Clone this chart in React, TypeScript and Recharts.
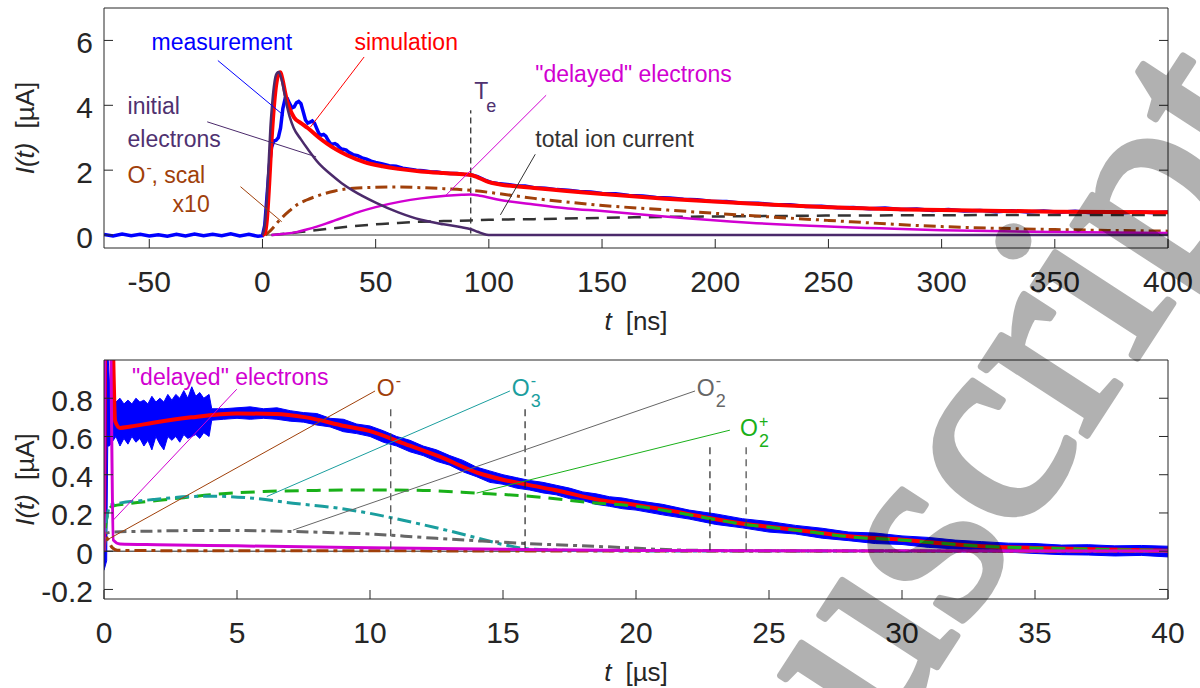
import React from "react";
import {
  ComposedChart,
  Line,
  Area,
  XAxis,
  YAxis,
  ReferenceLine,
  ReferenceDot,
} from "recharts";

type Pt = [number, number];
type Band = [number, number, number];

// ---------- top panel: t in ns, I in uA ----------
const nsTicks = [-50, 0, 50, 100, 150, 200, 250, 300, 350, 400];
const nsCurrentTicks = [0, 2, 4, 6];

const measurementNs: Pt[] = [
  [-70, 0.02], [-66, -0.03], [-62, 0.03], [-58, -0.02], [-54, 0.02], [-50, -0.03],
  [-46, 0.01], [-42, -0.04], [-38, 0.02], [-34, -0.03], [-30, 0.03], [-26, -0.02],
  [-22, 0.02], [-18, -0.02], [-14, 0.04], [-10, -0.03], [-6, 0.02], [-2, -0.04],
  [0, -0.02], [1, 0.3], [2, 1.2], [3, 2.1], [4, 2.7], [5, 2.9], [6, 2.92], [7, 3.0],
  [8, 3.3], [9, 3.9], [10, 4.2], [11, 4.2], [12, 4.05], [13, 3.92], [14, 3.95],
  [15, 4.08], [16, 4.12], [17, 4.05], [18, 3.8], [19, 3.55], [20, 3.45], [21, 3.48],
  [22, 3.52], [23, 3.45], [24, 3.28], [25, 3.12], [26, 3.08], [27, 3.1], [28, 3.05],
  [29, 2.92], [30, 2.82], [31, 2.8], [32, 2.82], [33, 2.78], [34, 2.7], [35, 2.65],
  [36, 2.64], [37, 2.62], [38, 2.56], [40, 2.48], [42, 2.45], [44, 2.38], [46, 2.34],
  [48, 2.28], [50, 2.24], [53, 2.19], [56, 2.14], [59, 2.12], [62, 2.06], [65, 2.03],
  [68, 2.0], [71, 1.98], [74, 1.95], [77, 1.94], [80, 1.91], [83, 1.9], [86, 1.9],
  [89, 1.87], [92, 1.86], [95, 1.8], [98, 1.7], [101, 1.62], [104, 1.59], [108, 1.56],
  [112, 1.52], [116, 1.51], [120, 1.46], [125, 1.44], [130, 1.4], [135, 1.38],
  [140, 1.34], [145, 1.33], [150, 1.28], [156, 1.27], [162, 1.22], [168, 1.2],
  [174, 1.16], [180, 1.14], [186, 1.1], [192, 1.09], [198, 1.04], [205, 1.03],
  [212, 0.98], [219, 0.98], [226, 0.93], [233, 0.93], [240, 0.88], [247, 0.89],
  [254, 0.84], [261, 0.85], [268, 0.81], [275, 0.83], [282, 0.79], [289, 0.8],
  [296, 0.76], [303, 0.79], [310, 0.74], [317, 0.76], [324, 0.72], [331, 0.75],
  [338, 0.71], [345, 0.74], [352, 0.7], [359, 0.73], [366, 0.69], [373, 0.72],
  [380, 0.69], [387, 0.72], [394, 0.69], [400, 0.71],
];

const simulationNs: Pt[] = [
  [0, 0], [1, 0.05], [2, 0.5], [3, 1.6], [4, 2.9], [5, 3.9], [6, 4.6], [7, 4.95],
  [7.8, 5.02], [9, 4.75], [10, 4.4], [11, 4.1], [12, 3.9], [14, 3.62], [17, 3.45],
  [20, 3.3], [25, 3.0], [28.5, 2.82], [33, 2.62], [37.4, 2.46], [45, 2.25], [53, 2.12],
  [60, 2.04], [70, 1.96], [80, 1.91], [87, 1.88], [92, 1.85], [95, 1.78], [100, 1.63],
  [105, 1.56], [120, 1.45], [149, 1.27], [178, 1.12], [215, 0.97], [250, 0.86],
  [300, 0.77], [350, 0.72], [400, 0.7],
];

const initialNs: Pt[] = [
  [0, 0], [1, 0.3], [2, 1.2], [2.8, 2.3], [3.5, 3.3], [4.3, 4.05], [5, 4.55],
  [5.7, 4.87], [6.5, 5.0], [7.2, 5.03], [8, 4.9], [8.7, 4.72], [10, 4.25], [10.9, 3.95],
  [12, 3.65], [13.8, 3.3], [17, 2.95], [20, 2.65], [25, 2.2], [30, 1.88], [35, 1.6],
  [40, 1.37], [50, 1.0], [60, 0.7], [70, 0.47], [80, 0.33], [88, 0.24], [92, 0.18],
  [95, 0.1], [99, 0.01], [101, 0], [400, 0],
];

const oMinusScaledNs: Pt[] = [
  [1.3, 0], [3, 0.1], [5, 0.25], [7, 0.42], [9, 0.56], [12, 0.75], [15, 0.92],
  [19.5, 1.08], [24, 1.2], [28, 1.29], [32, 1.36], [36, 1.41], [42, 1.45], [50, 1.47],
  [61, 1.48], [70, 1.46], [80, 1.43], [92, 1.38], [105, 1.27], [120, 1.13], [149, 0.92],
  [179, 0.77], [215, 0.6], [250, 0.45], [300, 0.26], [350, 0.17], [400, 0.12],
];

const delayedNs: Pt[] = [
  [4, 0], [10, 0.04], [15, 0.09], [19.5, 0.17], [24, 0.26], [28, 0.35], [32, 0.45],
  [36.4, 0.56], [43, 0.72], [50, 0.86], [61, 1.03], [70, 1.13], [81, 1.21], [88, 1.24],
  [92, 1.25], [96, 1.21], [105, 1.08], [120, 0.94], [135, 0.82], [150, 0.74],
  [179, 0.56], [215, 0.38], [250, 0.26], [300, 0.15], [350, 0.09], [400, 0.06],
];

const ionTotalNs: Pt[] = [
  [4, 0], [10, 0.04], [20, 0.12], [30, 0.2], [40, 0.27], [50, 0.33], [60, 0.37],
  [70, 0.41], [80, 0.43], [92, 0.45], [100, 0.47], [120, 0.49], [150, 0.53],
  [180, 0.56], [215, 0.58], [250, 0.6], [300, 0.61], [350, 0.62], [400, 0.62],
];

// ---------- bottom panel: t in us ----------
const usTicks = [0, 5, 10, 15, 20, 25, 30, 35, 40];
const usCurrentTicks = [-0.2, 0, 0.2, 0.4, 0.6, 0.8];

// measurement drawn as noise band [t, low, high]
const measurementUs: Band[] = [
  [0, -0.1, 1.05], [0.1, -0.05, 1.05], [0.14, 0.55, 1.05], [0.2, 0.55, 0.9],
  [0.3, 0.57, 0.84], [0.45, 0.6, 0.78], [0.6, 0.55, 0.8], [0.75, 0.59, 0.77],
  [0.9, 0.56, 0.79], [1.05, 0.6, 0.77], [1.2, 0.57, 0.8], [1.35, 0.59, 0.78],
  [1.5, 0.55, 0.79], [1.65, 0.58, 0.77], [1.8, 0.53, 0.81], [1.95, 0.6, 0.78],
  [2.1, 0.56, 0.8], [2.25, 0.53, 0.78], [2.4, 0.6, 0.82], [2.55, 0.58, 0.79],
  [2.7, 0.6, 0.82], [2.85, 0.57, 0.8], [3.0, 0.61, 0.84], [3.15, 0.59, 0.8],
  [3.3, 0.6, 0.86], [3.45, 0.61, 0.81], [3.6, 0.59, 0.83], [3.75, 0.62, 0.8],
  [3.95, 0.6, 0.82], [4.05, 0.685, 0.745], [4.5, 0.69, 0.745], [5, 0.695, 0.75],
  [5.5, 0.69, 0.755], [6, 0.695, 0.745], [6.5, 0.69, 0.75], [7, 0.68, 0.735],
  [7.5, 0.675, 0.725], [8, 0.66, 0.72], [8.5, 0.65, 0.695], [9, 0.625, 0.69],
  [9.5, 0.615, 0.665], [10, 0.6, 0.655], [10.5, 0.57, 0.63], [11, 0.55, 0.6],
  [11.5, 0.52, 0.58], [12, 0.5, 0.55], [12.5, 0.47, 0.53], [13, 0.45, 0.5],
  [13.5, 0.415, 0.475], [14, 0.39, 0.44], [14.5, 0.36, 0.42], [15, 0.35, 0.4],
  [15.5, 0.33, 0.385], [16, 0.32, 0.37], [16.5, 0.305, 0.36], [17, 0.295, 0.345],
  [17.5, 0.275, 0.33], [18, 0.265, 0.31], [18.5, 0.245, 0.3], [19, 0.235, 0.285],
  [19.5, 0.222, 0.278], [20, 0.215, 0.265], [21, 0.19, 0.245], [22, 0.168, 0.215],
  [23, 0.14, 0.195], [24, 0.122, 0.17], [25, 0.1, 0.155], [26, 0.09, 0.135],
  [27, 0.068, 0.12], [28, 0.055, 0.1], [29, 0.04, 0.095], [30, 0.035, 0.08],
  [31, 0.02, 0.072], [32, 0.012, 0.058], [33, 0.0, 0.05], [34, -0.005, 0.042],
  [35, -0.012, 0.04], [36, -0.018, 0.032], [37, -0.02, 0.034], [38, -0.025, 0.028],
  [39, -0.022, 0.03], [40, -0.03, 0.026],
];

const simulationUs: Pt[] = [
  [0, 0], [0.06, 1.3], [0.28, 1.3], [0.42, 0.68], [0.6, 0.645], [1.0, 0.652],
  [1.85, 0.672], [3.28, 0.7], [5.0, 0.72], [6.45, 0.718], [7.6, 0.7], [9.04, 0.655],
  [10.0, 0.628], [11.2, 0.567], [12.6, 0.496], [14.07, 0.409], [15.0, 0.374],
  [15.95, 0.347], [16.95, 0.32], [18.65, 0.267], [20, 0.242], [21.5, 0.207],
  [22.8, 0.172], [24.1, 0.142], [25, 0.128], [26.6, 0.102], [28, 0.078], [30, 0.06],
  [31.6, 0.04], [33, 0.026], [35, 0.017], [37.3, 0.01], [40, 0.003],
];

const o2PlusUs: Pt[] = [
  [0, 0], [0.1, 0.17], [0.3, 0.235], [1, 0.25], [2, 0.265], [3, 0.28], [4, 0.295],
  [6, 0.312], [8, 0.318], [10, 0.32], [12, 0.318], [14, 0.304], [16.3, 0.284],
  [18.2, 0.255], [20, 0.235], [21.5, 0.203], [22.8, 0.17], [24.1, 0.14], [25, 0.126],
  [26.6, 0.1], [28, 0.076], [30, 0.058], [31.6, 0.04], [33, 0.026], [35, 0.017],
  [37.3, 0.01], [40, 0.003],
];

const o3MinusUs: Pt[] = [
  [0, 0], [0.1, 0.17], [0.26, 0.242], [1.85, 0.27], [3.28, 0.286], [4.1, 0.288],
  [5.6, 0.277], [7.1, 0.251], [8.8, 0.225], [10, 0.198], [11.2, 0.163], [12.6, 0.119],
  [14.07, 0.068], [15, 0.035], [15.95, 0.012], [17, 0.006], [18.6, 0.003], [22, 0.001],
  [40, 0],
];

const o2MinusUs: Pt[] = [
  [0, 0], [0.1, 0.093], [0.3, 0.1], [1.85, 0.105], [3.28, 0.108], [5, 0.108],
  [7.1, 0.103], [8.8, 0.096], [10, 0.09], [12, 0.072], [14.07, 0.054], [15.95, 0.04],
  [18.9, 0.023], [22, 0.005], [25, 0.002], [40, 0],
];

const oMinusUs: Pt[] = [
  [0, 0], [0.05, 0.08], [0.15, 0.06], [0.3, 0.02], [0.5, 0.005], [2, 0.003], [40, 0],
];

const delayedUs: Pt[] = [
  [0, 0], [0.05, 1.3], [0.22, 1.3], [0.35, 0.058], [0.6, 0.038], [2, 0.034],
  [5, 0.028], [9.25, 0.019], [15, 0.01], [20, 0.004], [25, 0.002], [40, 0.001],
];

const rows = (pts: Pt[]) => pts.map(([t, v]) => ({ t, v }));
const bandRows = (pts: Band[]) => pts.map(([t, lo, hi]) => ({ t, v: [lo, hi] }));

const AXIS = "#262626";
const TICK = 9;
const BLUE = "#0000ff";
const RED = "#ff0000";
const PURPLE = "#4b2a6b";
const BROWN = "#a0400a";
const MAGENTA = "#d100d1";
const DARK = "#333333";
const TEAL = "#1a9e9e";
const GRAY = "#666666";
const GREEN = "#19b019";

function TickText({ x, y, anchor, value }: any) {
  return (
    <text x={x} y={y} textAnchor={anchor} dominantBaseline="central" fontSize={30} fill={AXIS}>
      {value}
    </text>
  );
}

function TickBottom(props: any) {
  const { x, y, payload } = props;
  return (
    <g>
      <line x1={x} x2={x} y1={y} y2={y - TICK} stroke={AXIS} />
      <TickText x={x} y={y + 33} anchor="middle" value={payload.value} />
    </g>
  );
}
function TickTop(props: any) {
  const { x, y } = props;
  return <line x1={x} x2={x} y1={y} y2={y + TICK} stroke={AXIS} />;
}
function TickLeft(props: any) {
  const { x, y, payload } = props;
  return (
    <g>
      <line x1={x} x2={x + TICK} y1={y} y2={y} stroke={AXIS} />
      <TickText x={x - 11} y={y + 2} anchor="end" value={payload.value} />
    </g>
  );
}
function TickRight(props: any) {
  const { x, y } = props;
  return <line x1={x} x2={x - TICK} y1={y} y2={y} stroke={AXIS} />;
}

function XTitle(props: any) {
  const { viewBox, unit } = props;
  const cx = viewBox.x + viewBox.width / 2;
  return (
    <text x={cx} y={viewBox.y + 73} textAnchor="middle" dominantBaseline="central" fontSize={26} fill={AXIS}>
      <tspan fontStyle="italic">t</tspan>
      <tspan dx={14}>[{unit}]</tspan>
    </text>
  );
}
function YTitle(props: any) {
  const { viewBox } = props;
  const cy = viewBox.y + viewBox.height / 2;
  return (
    <text
      x={25}
      y={cy}
      transform={`rotate(-90 25 ${cy})`}
      textAnchor="middle"
      dominantBaseline="central"
      fontSize={26}
      fill={AXIS}
    >
      <tspan fontStyle="italic">I(t)</tspan>
      <tspan dx={14}>[µA]</tspan>
    </text>
  );
}

function Txt(props: any) {
  const { viewBox, text, color } = props;
  return (
    <text x={viewBox.x} y={viewBox.y} fontSize={23} fill={color}>
      {text}
    </text>
  );
}
function Ion(props: any) {
  const { viewBox, sup, sub, color, rest } = props;
  const { x, y } = viewBox;
  return (
    <g fill={color}>
      <text x={x} y={y} fontSize={23}>
        O{rest ? <tspan dx={6}>{rest}</tspan> : null}
      </text>
      {sup && (
        <text x={x + 19} y={y - (sup === "+" ? 9 : 10)} fontSize={16}>
          {sup}
        </text>
      )}
      {sub && (
        <text x={x + 19} y={y + 11} fontSize={18}>
          {sub}
        </text>
      )}
    </g>
  );
}
function TeLabel(props: any) {
  const { viewBox } = props;
  return (
    <g fill="#4f3170">
      <text x={viewBox.x} y={viewBox.y} fontSize={23}>T</text>
      <text x={viewBox.x + 12} y={viewBox.y + 13} fontSize={18}>e</text>
    </g>
  );
}

const lead = (x1: number, y1: number, x2: number, y2: number, color: string, key: string) => (
  <ReferenceLine
    key={key}
    segment={[{ x: x1, y: y1 }, { x: x2, y: y2 }]}
    stroke={color}
    strokeWidth={1}
    ifOverflow="visible"
  />
);
const note = (x: number, y: number, label: React.ReactElement, key: string) => (
  <ReferenceDot key={key} x={x} y={y} r={0} fill="none" stroke="none" ifOverflow="visible" label={label} />
);

function TopPanel() {
  return (
    <ComposedChart width={1200} height={344} margin={{ top: 6, right: 30, bottom: 0, left: 0 }}>
      <XAxis
        type="number"
        dataKey="t"
        domain={[-70, 400]}
        ticks={nsTicks}
        interval={0}
        allowDataOverflow
        height={96}
        tickSize={0}
        tickMargin={0}
        tickLine={false}
        axisLine={{ stroke: AXIS }}
        tick={<TickBottom />}
        label={<XTitle unit="ns" />}
      />
      <XAxis
        xAxisId="top"
        orientation="top"
        type="number"
        domain={[-70, 400]}
        ticks={nsTicks}
        interval={0}
        allowDataOverflow
        height={2}
        tickSize={0}
        tickMargin={0}
        tickLine={false}
        axisLine={{ stroke: AXIS }}
        tick={<TickTop />}
      />
      <YAxis
        type="number"
        domain={[-0.4, 7]}
        ticks={nsCurrentTicks}
        interval={0}
        allowDataOverflow
        width={104}
        tickSize={0}
        tickMargin={0}
        tickLine={false}
        axisLine={{ stroke: AXIS }}
        tick={<TickLeft />}
        label={<YTitle />}
      />
      <YAxis
        yAxisId="right"
        orientation="right"
        type="number"
        domain={[-0.4, 7]}
        ticks={nsCurrentTicks}
        interval={0}
        allowDataOverflow
        width={2}
        tickSize={0}
        tickMargin={0}
        tickLine={false}
        axisLine={{ stroke: AXIS }}
        tick={<TickRight />}
      />
      <ReferenceLine segment={[{ x: 0, y: 0 }, { x: 400, y: 0 }]} stroke={DARK} strokeWidth={1} />
      <ReferenceLine
        segment={[{ x: 92, y: 0.05 }, { x: 92, y: 3.85 }]}
        stroke="#222"
        strokeWidth={1.2}
        strokeDasharray="6 4"
      />
      <Line data={rows(measurementNs)} dataKey="v" type="linear" stroke={BLUE} strokeWidth={3.5} dot={false} isAnimationActive={false} />
      <Line data={rows(ionTotalNs)} dataKey="v" type="monotone" stroke={DARK} strokeWidth={2.5} strokeDasharray="13 8" dot={false} isAnimationActive={false} />
      <Line data={rows(oMinusScaledNs)} dataKey="v" type="monotone" stroke={BROWN} strokeWidth={3} strokeDasharray="12 5 3 5" dot={false} isAnimationActive={false} />
      <Line data={rows(delayedNs)} dataKey="v" type="monotone" stroke={MAGENTA} strokeWidth={2.5} dot={false} isAnimationActive={false} />
      <Line data={rows(simulationNs)} dataKey="v" type="monotone" stroke={RED} strokeWidth={4} dot={false} isAnimationActive={false} />
      <Line data={rows(initialNs)} dataKey="v" type="monotone" stroke={PURPLE} strokeWidth={2.5} dot={false} isAnimationActive={false} />

      {lead(-19.7, 5.38, 9.36, 3.69, BLUE, "l1")}
      {lead(44.9, 5.49, 21.2, 3.33, RED, "l2")}
      {lead(-24.4, 3.49, 23.7, 2.41, PURPLE, "l3")}
      {lead(-9.7, 1.49, 8.5, 0.41, BROWN, "l4")}
      {lead(125.3, 4.31, 80.8, 1.21, MAGENTA, "l5")}
      {lead(120.5, 2.49, 105.1, 0.62, DARK, "l6")}

      {note(-49, 5.69, <Txt text="measurement" color={BLUE} />, "n1")}
      {note(40.6, 5.69, <Txt text="simulation" color={RED} />, "n2")}
      {note(-59.6, 3.74, <Txt text="initial" color="#4f3170" />, "n3")}
      {note(-59.6, 2.72, <Txt text="electrons" color="#4f3170" />, "n4")}
      {note(-59.6, 1.59, <Ion sup="-" rest=", scal" color={BROWN} />, "n5")}
      {note(-39.7, 0.72, <Txt text="x10" color={BROWN} />, "n6")}
      {note(120.5, 4.72, <Txt text={'"delayed" electrons'} color={MAGENTA} />, "n7")}
      {note(93.6, 4.18, <TeLabel />, "n8")}
      {note(120.5, 2.72, <Txt text="total ion current" color={DARK} />, "n9")}
    </ComposedChart>
  );
}

function BottomPanel() {
  return (
    <ComposedChart width={1200} height={344} margin={{ top: 14, right: 30, bottom: 0, left: 0 }}>
      <XAxis
        type="number"
        dataKey="t"
        domain={[0, 40]}
        ticks={usTicks}
        interval={0}
        allowDataOverflow
        height={89}
        tickSize={0}
        tickMargin={0}
        tickLine={false}
        axisLine={{ stroke: AXIS }}
        tick={<TickBottom />}
        label={<XTitle unit="µs" />}
      />
      <XAxis
        xAxisId="top"
        orientation="top"
        type="number"
        domain={[0, 40]}
        ticks={usTicks}
        interval={0}
        allowDataOverflow
        height={2}
        tickSize={0}
        tickMargin={0}
        tickLine={false}
        axisLine={{ stroke: AXIS }}
        tick={<TickTop />}
      />
      <YAxis
        type="number"
        domain={[-0.25, 1.0]}
        ticks={usCurrentTicks}
        interval={0}
        allowDataOverflow
        width={104}
        tickSize={0}
        tickMargin={0}
        tickLine={false}
        axisLine={{ stroke: AXIS }}
        tick={<TickLeft />}
        label={<YTitle />}
      />
      <YAxis
        yAxisId="right"
        orientation="right"
        type="number"
        domain={[-0.25, 1.0]}
        ticks={usCurrentTicks}
        interval={0}
        allowDataOverflow
        width={2}
        tickSize={0}
        tickMargin={0}
        tickLine={false}
        axisLine={{ stroke: AXIS }}
        tick={<TickRight />}
      />
      <ReferenceLine segment={[{ x: 0, y: 0 }, { x: 40, y: 0 }]} stroke="#222" strokeWidth={1} />
      <Area
        data={bandRows(measurementUs)}
        dataKey="v"
        type="linear"
        stroke={BLUE}
        strokeWidth={1}
        fill={BLUE}
        fillOpacity={1}
        dot={false}
        activeDot={false}
        isAnimationActive={false}
      />
      <Line data={rows(simulationUs)} dataKey="v" type="monotone" stroke={RED} strokeWidth={4} dot={false} isAnimationActive={false} />
      <Line data={rows(o2PlusUs)} dataKey="v" type="monotone" stroke={GREEN} strokeWidth={3} strokeDasharray="14 8" dot={false} isAnimationActive={false} />
      <Line data={rows(o3MinusUs)} dataKey="v" type="monotone" stroke={TEAL} strokeWidth={3} strokeDasharray="14 5 4 5" dot={false} isAnimationActive={false} />
      <Line data={rows(o2MinusUs)} dataKey="v" type="monotone" stroke={GRAY} strokeWidth={3} strokeDasharray="12 5 4 5" dot={false} isAnimationActive={false} />
      <Line data={rows(oMinusUs)} dataKey="v" type="monotone" stroke={BROWN} strokeWidth={3} strokeDasharray="12 5 4 5" dot={false} isAnimationActive={false} />
      <Line data={rows(delayedUs)} dataKey="v" type="monotone" stroke={MAGENTA} strokeWidth={3} dot={false} isAnimationActive={false} />

      <ReferenceLine segment={[{ x: 10.78, y: 0.015 }, { x: 10.78, y: 0.75 }]} stroke="#444" strokeWidth={1.2} strokeDasharray="7 5" />
      <ReferenceLine segment={[{ x: 15.83, y: 0.015 }, { x: 15.83, y: 0.75 }]} stroke="#222" strokeWidth={1.2} strokeDasharray="7 5" />
      <ReferenceLine segment={[{ x: 22.78, y: 0.005 }, { x: 22.78, y: 0.567 }]} stroke="#222" strokeWidth={1.2} strokeDasharray="7 5" />
      <ReferenceLine segment={[{ x: 24.14, y: 0.005 }, { x: 24.14, y: 0.567 }]} stroke="#444" strokeWidth={1.2} strokeDasharray="7 5" />

      {lead(4.99, 0.847, 0.35, 0.163, MAGENTA, "b1")}
      {lead(10.19, 0.838, 0.1, 0.058, BROWN, "b2")}
      {lead(15.26, 0.838, 6.12, 0.286, TEAL, "b3")}
      {lead(22.22, 0.838, 7.1, 0.11, GRAY, "b4")}
      {lead(23.53, 0.633, 14.01, 0.304, GREEN, "b5")}

      {note(1.05, 0.868, <Txt text={'"delayed" electrons'} color={MAGENTA} />, "m1")}
      {note(10.25, 0.812, <Ion sup="-" color={BROWN} />, "m2")}
      {note(15.33, 0.812, <Ion sup="-" sub="3" color={TEAL} />, "m3")}
      {note(22.28, 0.812, <Ion sup="-" sub="2" color={GRAY} />, "m4")}
      {note(23.91, 0.602, <Ion sup="+" sub="2" color={GREEN} />, "m5")}
    </ComposedChart>
  );
}

export default function App() {
  return (
    <div
      style={{
        position: "absolute",
        left: 0,
        top: 0,
        width: 1200,
        height: 688,
        background: "#fff",
        overflow: "hidden",
        fontFamily: "'Liberation Sans', Arial, sans-serif",
      }}
    >
      <div style={{ position: "absolute", left: 0, top: 0 }}>
        <TopPanel />
      </div>
      <div style={{ position: "absolute", left: 0, top: 344 }}>
        <BottomPanel />
      </div>
      <svg
        width={1200}
        height={688}
        style={{ position: "absolute", left: 0, top: 0, pointerEvents: "none" }}
      >
        <g opacity={0.3}>
          <text
            x={610}
            y={1170}
            transform="rotate(-57 610 1170)"
            fontFamily="'Liberation Serif', 'Times New Roman', serif"
            fontSize={275}
            fill="#000"
            stroke="#000"
            strokeWidth={7}
            strokeLinejoin="round"
          >
            Manuscript
          </text>
        </g>
      </svg>
    </div>
  );
}
